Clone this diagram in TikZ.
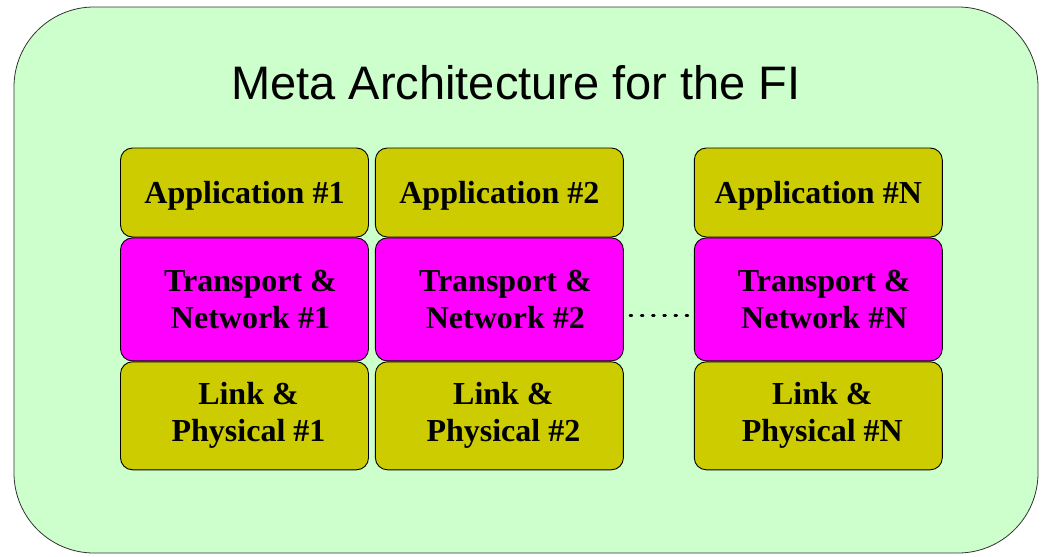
\documentclass[tikz,border=0pt]{standalone}
\usepackage{fontspec}
\setmainfont{Liberation Serif}
\newfontfamily\titlefont{Liberation Sans}
\usetikzlibrary{positioning}
\definecolor{frameGreen}{RGB}{204,255,204}
\definecolor{layerOlive}{RGB}{204,204,0}
\definecolor{layerPink}{RGB}{255,0,255}
\tikzset{
    layer/.style={draw=black, line width=0.9pt, rounded corners=12pt,
        minimum width=248pt, inner sep=0pt, align=center,
        font=\bfseries\fontsize{32}{37}\selectfont},
    app/.style={layer, fill=layerOlive, minimum height=89pt, text depth=0pt},
    trans/.style={layer, fill=layerPink, minimum height=123pt},
    phys/.style={layer, fill=layerOlive, minimum height=108pt}
}

\begin{document}
\begin{tikzpicture}[x=1pt, y=-1pt]
\useasboundingbox (0,0) rectangle (1042,557);
% outer frame
\draw[fill=frameGreen, draw=black!80, line width=0.8pt, rounded corners=80pt]
  (14,7) rectangle (1038,553);
\node (title) at (516,83) {\titlefont\fontsize{47}{50}\selectfont Meta Architecture for the FI};
% stack #1
\node[app] (app1) at (244.5,192.5) {Application \#1};
\node[trans, below=0pt of app1] (tn1) {\hspace{12pt}Transport \&\\\hspace{12pt}Network \#1};
\node[phys, below=0pt of tn1] (lp1) {\hspace{8pt}Link \&\\\hspace{8pt}Physical \#1};
% stack #2
\node[app, right=6pt of app1] (app2) {Application \#2};
\node[trans, below=0pt of app2] (tn2) {\hspace{12pt}Transport \&\\\hspace{12pt}Network \#2};
\node[phys, below=0pt of tn2] (lp2) {\hspace{8pt}Link \&\\\hspace{8pt}Physical \#2};
% stack #N
\node[app, right=70pt of app2] (appN) {Application \#N};
\node[trans, below=0pt of appN] (tnN) {\hspace{12pt}Transport \&\\\hspace{12pt}Network \#N};
\node[phys, below=0pt of tnN] (lpN) {\hspace{8pt}Link \&\\\hspace{8pt}Physical \#N};
% the stacks in between
\draw[line width=2.2pt, dash pattern=on 2.2pt off 9pt, line cap=round]
  ([xshift=6pt,yshift=-16pt]tn2.east) -- ([yshift=-16pt]tnN.west);
\end{tikzpicture}
\end{document}
